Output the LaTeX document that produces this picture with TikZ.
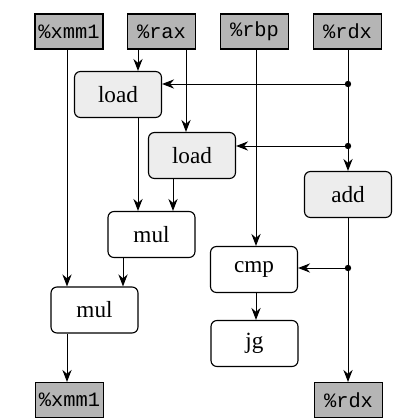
\documentclass[tikz,border=0pt]{standalone}
\usepackage{fontspec}
\setmainfont{Liberation Serif}
\setmonofont{Liberation Mono}
\usetikzlibrary{%
	arrows.meta,%
	calc,%
	positioning,%
}
\tikzset{
	>={Stealth[length=3mm,width=2.3mm]},%
	regnode/.style={%
			draw,%
			rectangle,%
			line width=0.8pt,%
			minimum width=1.7cm,%
			minimum height=0.875cm,%
			inner sep=0,%
			fill=gray!58,%
			font={\fontsize{14.5}{16}\selectfont\ttfamily}},%
	opnode/.style={%
			draw,%
			rectangle,%
			line width=0.8pt,%
			rounded corners=0.15cm,%
			minimum width=2.175cm,%
			minimum height=1.15cm,%
			inner sep=0,%
			fill=white,%
			font={\fontsize{16.5}{18}\selectfont}},%
	shadednode/.style={opnode, fill=gray!14},%
	flow/.style={->, line width=0.7pt},%
}
\begin{document}
\begin{tikzpicture}[x=0.025cm, y=-0.025cm]
	\useasboundingbox (0,0) rectangle (402,420);

	% registers in
	\node[regnode] (xmmIn) at (69,31.5) {\%xmm1};
	\node[regnode] (raxIn) at (161.5,31.5) {\%rax};
	\node[regnode] (rbpIn) at (254.5,31.5) {\%rbp};
	\node[regnode] (rdxIn) at (347.5,31.5) {\%rdx};

	% operations
	\node[shadednode] (load1) at (118,94.5) {load};
	\node[shadednode] (load2) at (192,155.5) {load};
	\node[shadednode] (add) at (348,194.5) {add};
	\node[opnode] (mul1) at (151.5,234.5) {mul};
	\node[opnode] (cmp) at (254,269.5) {cmp};
	\node[opnode] (mul2) at (94.5,310) {mul};
	\node[opnode] (jg) at (254.5,343.5) {jg};

	% registers out
	\node[regnode] (xmmOut) at (69.5,400) {\%xmm1};
	\node[regnode] (rdxOut) at (348.5,400) {\%rdx};

	% columns and junctions
	\coordinate (cA) at (67,0);
	\coordinate (cB) at (138,0);
	\coordinate (cC) at (123,0);
	\coordinate (cD) at (173,0);
	\coordinate (cE) at (186,0);
	\coordinate (cF) at (256,0);
	\coordinate (cG) at (348,0);
	\coordinate (dot1) at (348,84);
	\coordinate (dot2) at (348,146);
	\coordinate (dot3) at (348,268);

	\draw[flow] (cA |- xmmIn.south) -- (cA |- mul2.north);
	\draw[flow] (cB |- raxIn.south) -- (cB |- load1.north);
	\draw[flow] (cE |- raxIn.south) -- (cE |- load2.north);
	\draw[flow] (cB |- load1.south) -- (cB |- mul1.north);
	\draw[flow] (cD |- load2.south) -- (cD |- mul1.north);
	\draw[flow] (cC |- mul1.south) -- (cC |- mul2.north);
	\draw[flow] (cA |- mul2.south) -- (cA |- xmmOut.north);
	\draw[flow] (cF |- rbpIn.south) -- (cF |- cmp.north);
	\draw[flow] (cF |- cmp.south) -- (cF |- jg.north);

	\draw[line width=0.7pt] (cG |- rdxIn.south) -- (dot2);
	\draw[flow] (dot2) -- (cG |- add.north);
	\draw[flow] (dot1) -- (dot1 -| load1.east);
	\draw[flow] (dot2) -- (dot2 -| load2.east);
	\draw[flow] (cG |- add.south) -- (cG |- rdxOut.north);
	\draw[flow] (dot3) -- (dot3 -| cmp.east);

	\foreach \d in {dot1, dot2, dot3}
		\fill (\d) circle (0.08cm);
\end{tikzpicture}
\end{document}
